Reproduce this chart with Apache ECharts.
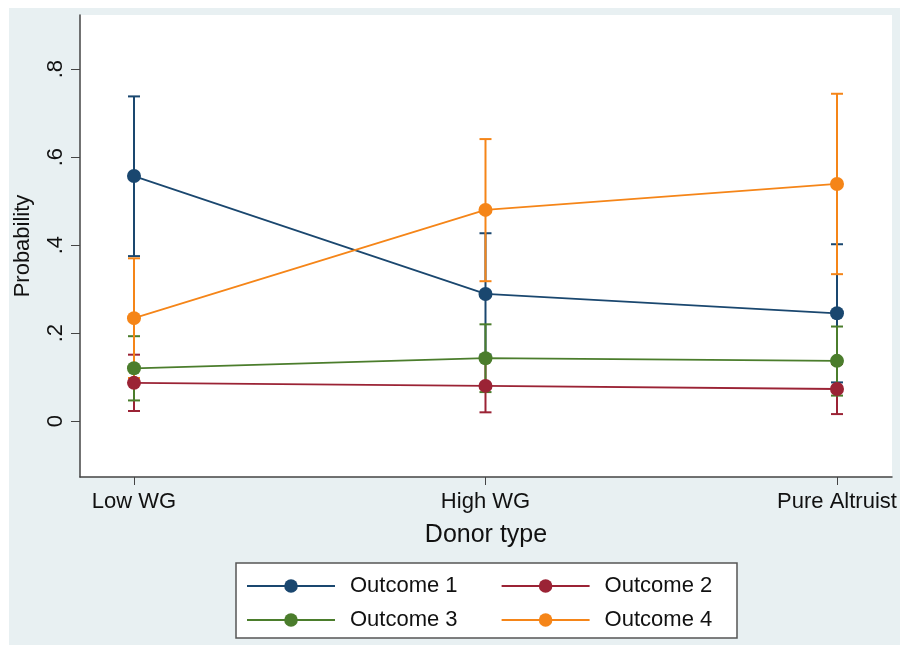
<!DOCTYPE html>
<html>
<head>
<meta charset="utf-8">
<script src="https://cdn.jsdelivr.net/npm/echarts@6/dist/echarts.min.js"></script>
<style>
  html, body { margin: 0; padding: 0; background: #fff; }
  #chart-container { width: 900px; height: 650px; }
</style>
</head>
<body>
<div id="chart-container"></div>
<script>
// donor types on the x axis
const categories = ['Low WG', 'High WG', 'Pure Altruist'];
const yTicks = [0, 0.2, 0.4, 0.6, 0.8];
const seriesNames = ['Outcome 1', 'Outcome 2', 'Outcome 3', 'Outcome 4'];
const colors = ['#1a476f', '#9b2335', '#4b7d2c', '#f58518'];

// predicted probabilities and 95% CI bounds
const out1 = [0.557, 0.289, 0.245];
const out1Lo = [0.375, 0.151, 0.088];
const out1Hi = [0.738, 0.427, 0.402];
const out2 = [0.087, 0.080, 0.073];
const out2Lo = [0.023, 0.020, 0.016];
const out2Hi = [0.151, 0.140, 0.130];
const out3 = [0.120, 0.143, 0.137];
const out3Lo = [0.047, 0.066, 0.058];
const out3Hi = [0.193, 0.220, 0.215];
const out4 = [0.234, 0.480, 0.539];
const out4Lo = [0.098, 0.318, 0.334];
const out4Hi = [0.370, 0.641, 0.744];

const means = [out1, out2, out3, out4];
const lows = [out1Lo, out2Lo, out3Lo, out4Lo];
const highs = [out1Hi, out2Hi, out3Hi, out4Hi];

const font = '"Liberation Sans", Arial, sans-serif';

let dom = document.getElementById('chart-container');
let myChart = echarts.init(dom, null, { renderer: 'canvas' });

function capRenderer(color) {
    return function (params, api) {
        let x = api.value(0);
        let top = api.coord([x, api.value(2)]);
        let bot = api.coord([x, api.value(1)]);
        let hw = 6;
        let style = { stroke: color, lineWidth: 2 };
        return {
            type: 'group',
            children: [
                { type: 'line', shape: { x1: top[0], y1: top[1], x2: bot[0], y2: bot[1] }, style: style },
                { type: 'line', shape: { x1: top[0] - hw, y1: top[1], x2: top[0] + hw, y2: top[1] }, style: style },
                { type: 'line', shape: { x1: bot[0] - hw, y1: bot[1], x2: bot[0] + hw, y2: bot[1] }, style: style }
            ]
        };
    };
}

let series = [];
for (let s = 0; s < seriesNames.length; s++) {
    let ci = [];
    let pts = [];
    for (let i = 0; i < categories.length; i++) {
        ci.push([i, lows[s][i], highs[s][i]]);
        pts.push([i, means[s][i]]);
    }
    series.push({
        name: seriesNames[s] + ' CI',
        type: 'custom',
        renderItem: capRenderer(colors[s]),
        data: ci,
        encode: { x: 0, y: [1, 2] },
        z: 2,
        silent: true
    });
    series.push({
        name: seriesNames[s],
        type: 'line',
        data: pts,
        color: colors[s],
        symbol: 'circle',
        symbolSize: 14,
        lineStyle: { width: 1.8, color: colors[s] },
        itemStyle: { color: colors[s] },
        z: 3
    });
}

let legendCommon = {
    show: true,
    itemWidth: 88,
    itemHeight: 17,
    itemGap: 43,
    padding: 0,
    textStyle: { fontFamily: font, fontSize: 22, color: '#111', padding: [0, 0, 0, 10] },
    z: 10
};

let option = {
    backgroundColor: '#ffffff',
    animation: false,
    graphic: [
        { type: 'rect', shape: { x: 9, y: 8, width: 891, height: 637 }, style: { fill: '#e8f0f2' }, z: -10 },
        { type: 'rect', shape: { x: 236, y: 563, width: 501, height: 75 }, style: { fill: '#ffffff', stroke: '#555', lineWidth: 1.5 }, z: 1 }
    ],
    grid: {
        left: 80, top: 15, right: 8, bottom: 173,
        outerBoundsMode: 'none',
        containLabel: false,
        show: true, backgroundColor: '#ffffff', borderWidth: 0
    },
    legend: [
        Object.assign({}, legendCommon, { left: 246, top: 575, data: [seriesNames[0], seriesNames[1]] }),
        Object.assign({}, legendCommon, { left: 246, top: 609, data: [seriesNames[2], seriesNames[3]] })
    ],
    xAxis: {
        type: 'value',
        min: -0.1536,
        max: 2.1565,
        name: 'Donor type',
        nameLocation: 'middle',
        nameGap: 46,
        nameTextStyle: { fontFamily: font, fontSize: 25, color: '#111' },
        splitLine: { show: false },
        axisLine: { show: true, onZero: false, lineStyle: { color: '#444', width: 1.5 } },
        axisTick: { show: true, length: 8, lineStyle: { color: '#444' }, customValues: [0, 1, 2] },
        axisLabel: {
            customValues: [0, 1, 2],
            formatter: function (v) { return categories[Math.round(v)]; },
            fontFamily: font, fontSize: 22, color: '#111', margin: 14
        }
    },
    yAxis: {
        type: 'value',
        min: -0.127,
        max: 0.923,
        name: 'Probability',
        nameLocation: 'middle',
        nameGap: 46,
        nameTextStyle: { fontFamily: font, fontSize: 22, color: '#111' },
        splitLine: { show: false },
        axisLine: { show: true, onZero: false, lineStyle: { color: '#444', width: 1.5 } },
        axisTick: { show: true, length: 9, lineStyle: { color: '#444' }, customValues: yTicks },
        axisLabel: {
            customValues: yTicks,
            rotate: 90,
            formatter: function (v) {
                if (Math.abs(v) < 1e-9) return '0';
                return '.' + Math.round(v * 10);
            },
            fontFamily: font, fontSize: 22, color: '#111', margin: 13
        }
    },
    series: series
};

myChart.setOption(option);
window.addEventListener('resize', myChart.resize);
</script>
</body>
</html>
